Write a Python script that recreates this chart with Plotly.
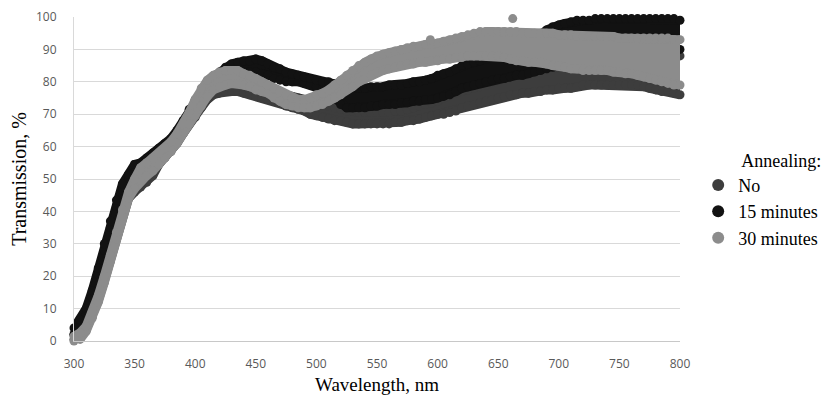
import plotly.graph_objects as go

# Wavelength grid (nm), every 5 nm from 300 to 800
wavelength = list(range(300, 801, 5))

# "No" annealing: lower / upper edge of the point cloud (transmission, %)
no_lo = [0.5, 1, 3.5, 7.5, 12.5, 18.5, 25, 32, 39, 44,
         46, 47.5, 49, 51, 54.5, 56.5, 58.5, 61, 64, 67,
         69, 72, 74.5, 76, 76.5, 77, 77, 77, 76.5, 76,
         75.5, 75, 74.5, 74, 73.5, 72.5, 72, 71.5, 71, 70,
         69.5, 69, 68.5, 68, 68, 67.5, 67, 67, 67, 67,
         67, 67, 67, 67.5, 67.5, 68, 68, 68.5, 69, 69.5,
         70, 70, 70.5, 71, 72, 72.5, 73, 73.5, 74, 74.5,
         75, 75.5, 76, 76, 76.5, 76.5, 77, 77, 77.5, 77.5,
         78, 78, 78, 78.5, 79, 79, 79, 79, 79, 79,
         79, 79, 79, 79, 78.5, 78, 77.5, 77, 77, 76.5,
         76]
no_hi = [2, 3, 5, 9.5, 14.5, 20.5, 27, 34, 41, 46.5,
         50, 51, 52, 54, 56.5, 58.5, 61, 63.5, 66.5, 69.5,
         72.5, 75.5, 78, 79.5, 80.5, 81.5, 82, 82, 81.5, 81,
         80, 79.5, 78.5, 78, 77, 76, 75.5, 75, 74.5, 74,
         73.5, 73, 72.5, 72, 71.5, 71, 71, 70.5, 70.5, 70.5,
         70.5, 70.5, 70.5, 71, 71, 71.5, 72, 72.5, 73, 73.5,
         74, 75, 76, 76.5, 77, 77.5, 78, 78.5, 79, 80,
         80.5, 81, 82, 82.5, 83, 83, 83.5, 84, 84, 84,
         84.5, 85, 85, 85.5, 86, 86, 86, 86, 86, 86,
         86.5, 86.5, 87, 87, 87, 87, 87, 87.5, 88, 88,
         88]

# 15 minutes annealing
m15_lo = [2, 4.5, 8, 13.5, 20.5, 28, 35, 41.5, 46.5, 49.5,
          52, 52, 53.5, 55, 56.5, 58, 59.5, 62, 65, 68,
          71, 74, 76.5, 78.5, 80, 81.5, 82, 82.5, 83, 83,
          83, 82.5, 82, 81, 80.5, 80, 80, 80, 79.5, 79,
          78.5, 78, 77, 75, 73, 72, 72, 72, 72, 72.5,
          72.5, 73, 73, 73, 73.5, 73.5, 74, 74, 74.5, 74.5,
          75, 75.5, 76, 77, 78, 78.5, 79, 79.5, 80, 80.5,
          81, 81, 81.5, 82, 82, 82.5, 83, 83.5, 84, 84.5,
          85, 86, 87, 88, 89, 90, 90, 90, 90, 90,
          90, 90, 90, 90, 90, 90, 90, 90, 90, 90,
          90]
m15_hi = [4, 6.5, 10, 15.5, 22.5, 30, 37, 43.5, 48.5, 51.5,
          54.5, 55, 56.5, 58, 59.5, 61, 62.5, 65, 68, 71.5,
          74.5, 77, 79.5, 81.5, 83, 84.5, 85.5, 86, 86.5, 86.5,
          87, 86.5, 85.5, 84.5, 84, 83, 82.5, 82, 81.5, 81,
          80.5, 80, 80, 79.5, 79, 78.5, 78, 78, 78, 78.5,
          78.5, 78.5, 79, 79, 79, 79.5, 80, 80, 80.5, 81,
          82, 82.5, 83, 84, 85, 85.5, 86, 86.5, 87, 87.5,
          88, 88.5, 89, 90, 91, 92, 93, 94.5, 96, 97,
          97.5, 98, 98.5, 99, 99, 99, 99.5, 99.5, 99.5, 99.5,
          99.5, 99.5, 99.5, 99.5, 99.5, 99.5, 99.5, 99.5, 99.5, 99.5,
          99]

# 30 minutes annealing
m30_lo = [0, 0.5, 3, 7, 12, 18, 24.5, 31.5, 38.5, 44,
          47, 49.5, 51, 52.5, 54.5, 56.5, 58.5, 61, 64, 67,
          69.5, 72.5, 75.5, 77.5, 78.5, 79, 79.5, 79.5, 79, 78.5,
          77.5, 77, 76.5, 75, 74, 73, 72.5, 72, 72, 72,
          72.5, 73, 74, 75, 76, 77.5, 78.5, 80, 81, 82,
          83, 83.5, 84, 84.5, 85, 85.5, 85.5, 86, 86, 86.5,
          86.5, 87, 87, 87.5, 87.5, 88, 88, 88, 88, 88,
          88, 87.5, 87, 86.5, 86.5, 86, 86, 86, 85.5, 85,
          85, 84.5, 84, 84, 83.5, 83.5, 83.5, 83.5, 83.5, 83,
          83, 82.5, 82.5, 82, 81.5, 81, 80.5, 80, 79.5, 79,
          79]
m30_hi = [1.5, 2.5, 4.5, 9, 14, 20, 26.5, 33.5, 40.5, 46,
          50, 53.5, 55, 56.5, 58, 59.5, 61.5, 64, 67, 70.5,
          74.5, 78, 80.5, 82, 83, 83.5, 83.5, 83.5, 82.5, 82,
          81, 80, 79, 78, 77, 76, 75, 74.5, 74.5, 75,
          76, 76.5, 77.5, 79, 80.5, 82, 83.5, 85, 86, 87,
          88, 88.5, 89, 89.5, 90, 90.5, 91, 91, 91.5, 91.5,
          92, 92.5, 93, 93.5, 94, 94.5, 95, 95.5, 95.5, 95.5,
          95.5, 95.5, 95.5, 95.5, 95, 95, 95, 95, 95, 95,
          94.5, 94.5, 94.5, 94, 94, 94, 94, 94, 94, 94,
          93.5, 93.5, 93.5, 93.5, 93.5, 93.5, 93.5, 93.5, 93.5, 93,
          93]

# a few isolated points standing out of the 30-minute cloud
m30_out_x = [594, 662]
m30_out_y = [93, 99.5]

series = [
    ("No", no_lo, no_hi, "#3d3d3d", [], []),
    ("15 minutes", m15_lo, m15_hi, "#121212", [], []),
    ("30 minutes", m30_lo, m30_hi, "#8c8c8c", m30_out_x, m30_out_y),
]

fig = go.Figure()
for i, (name, lo, hi, color, ox, oy) in enumerate(series):
    grp = "g%d" % i
    fig.add_trace(go.Scatter(x=wavelength, y=hi, mode="lines",
                             line=dict(width=9, color=color),
                             showlegend=False, hoverinfo="skip",
                             legendgroup=grp, cliponaxis=False))
    fig.add_trace(go.Scatter(x=wavelength, y=lo, mode="lines",
                             line=dict(width=9, color=color),
                             fill="tonexty", fillcolor=color,
                             showlegend=False, hoverinfo="skip",
                             legendgroup=grp, cliponaxis=False))
    fig.add_trace(go.Scatter(x=wavelength + wavelength + ox, y=lo + hi + oy,
                             mode="markers", name=name,
                             marker=dict(size=9, color=color, line=dict(width=0)),
                             cliponaxis=False, legendgroup=grp,
                             showlegend=True))

# the page body keeps an 8 px default margin, so the figure is 8 px smaller
fig.update_layout(
    width=827, height=389,
    margin=dict(l=66, r=155, t=9, b=56, autoexpand=False),
    paper_bgcolor="white", plot_bgcolor="white",
    showlegend=True,
    legend=dict(
        title=dict(text="Annealing:", side="top right",
                   font=dict(family="Liberation Serif", size=18, color="#000")),
        font=dict(family="Liberation Serif", size=18, color="#000"),
        x=1.03, y=0.61, xanchor="left", yanchor="top",
        traceorder="grouped", tracegroupgap=0,
        itemsizing="constant", bgcolor="rgba(0,0,0,0)",
    ),
    xaxis=dict(
        range=[300, 800], tickmode="array", tickvals=list(range(300, 801, 50)),
        showgrid=False, zeroline=False, showline=True, linecolor="#c8c8c8",
        linewidth=1, ticks="", ticklabelstandoff=12, automargin=False,
        tickfont=dict(family="Open Sans", size=12, color="#595959"),
        title=dict(text="Wavelength, nm", standoff=6,
                   font=dict(family="Liberation Serif", size=19, color="#000")),
    ),
    yaxis=dict(
        range=[0, 100], tickmode="array", tickvals=list(range(0, 101, 10)),
        showgrid=True, gridcolor="#d9d9d9", gridwidth=1, zeroline=False,
        showline=True, linecolor="#d9d9d9", ticks="", ticklabelstandoff=14,
        automargin=False,
        tickfont=dict(family="Open Sans", size=12, color="#595959"),
        title=dict(text="Transmission, %", standoff=5,
                   font=dict(family="Liberation Serif", size=20, color="#000")),
    ),
)

fig.write_html("out.html")
